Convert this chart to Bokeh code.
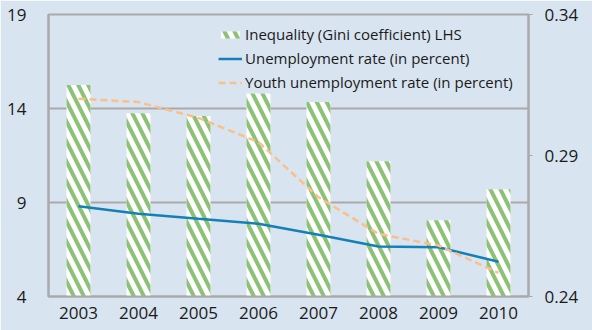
from bokeh.plotting import figure
from bokeh.models import Range1d, LinearAxis, FixedTicker, Legend, LegendItem
from bokeh.embed import file_html
from bokeh.resources import INLINE

years = [2003, 2004, 2005, 2006, 2007, 2008, 2009, 2010]
gini = [0.315, 0.305, 0.304, 0.312, 0.309, 0.288, 0.267, 0.278]
unemployment = [8.80, 8.40, 8.13, 7.87, 7.28, 6.66, 6.62, 5.85]
youth_unemployment = [14.52, 14.34, 13.50, 12.21, 9.28, 7.33, 6.71, 5.26]

left_ticks = [4, 9, 14, 19]
right_ticks = [0.24, 0.29, 0.34]

BG = "#d8e4f0"
GRID = "#a9a9a9"
TEXT = "#1a1a1a"
FONT = "Open Sans"

p = figure(width=592, height=330, output_backend="svg", toolbar_location=None,
           x_range=Range1d(2002.5, 2010.5), y_range=Range1d(4, 19),
           min_border_left=48, min_border_right=64, min_border_top=14, min_border_bottom=34)
p.background_fill_color = BG
p.border_fill_color = BG
p.outline_line_color = GRID
p.outline_line_width = 2

p.extra_y_ranges = {"gini": Range1d(0.24, 0.34)}

bars = p.vbar(x=years, top=gini, bottom=0.24, width=0.4, y_range_name="gini",
              fill_color="white", line_color=None,
              hatch_pattern="\\", hatch_color="#8cc276", hatch_scale=20, hatch_weight=4)
line_u = p.line(years, unemployment, line_color="#1580b8", line_width=2.5)
line_y = p.line(years, youth_unemployment, line_color="#fbbf8c", line_width=2.5, line_dash="7 4")

# axes
p.xaxis.ticker = FixedTicker(ticks=years)
p.yaxis.ticker = FixedTicker(ticks=left_ticks)
for ax in (p.xaxis[0], p.yaxis[0]):
    ax.axis_line_color = GRID
    ax.axis_line_width = 2
    ax.major_tick_line_color = None
    ax.minor_tick_line_color = None
    ax.major_label_text_font = FONT
    ax.major_label_text_font_size = "17px"
    ax.major_label_text_color = TEXT
p.xaxis.major_label_standoff = 4
p.yaxis.major_label_standoff = 16

right = LinearAxis(y_range_name="gini", ticker=FixedTicker(ticks=right_ticks))
right.axis_line_color = GRID
right.axis_line_width = 2
right.major_tick_line_color = GRID
right.major_tick_line_width = 1
right.major_tick_in = 0
right.major_tick_out = 4
right.minor_tick_line_color = None
right.major_label_text_font = FONT
right.major_label_text_font_size = "17px"
right.major_label_text_color = TEXT
right.major_label_standoff = 12
p.add_layout(right, "right")

p.xgrid.grid_line_color = None
p.ygrid.ticker = FixedTicker(ticks=left_ticks)
p.ygrid.grid_line_color = GRID
p.ygrid.grid_line_width = 2

legend = Legend(items=[
    LegendItem(label="Inequality (Gini coefficient) LHS", renderers=[bars]),
    LegendItem(label="Unemployment rate (in percent)", renderers=[line_u]),
    LegendItem(label="Youth unemployment rate (in percent)", renderers=[line_y]),
], location=(170, 204))
legend.background_fill_alpha = 0
legend.border_line_color = None
legend.padding = 0
legend.margin = 0
legend.spacing = 4
legend.glyph_width = 24
legend.glyph_height = 9
legend.label_height = 20
legend.label_standoff = 3
legend.label_text_font = FONT
legend.label_text_font_size = "15px"
legend.label_text_color = TEXT
p.add_layout(legend, "center")

open("out.html", "w").write(file_html(p, INLINE))
